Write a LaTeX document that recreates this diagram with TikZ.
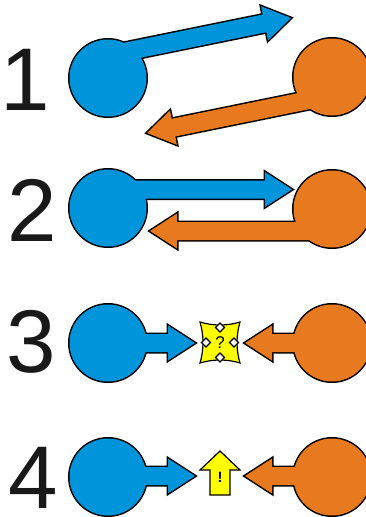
\documentclass[tikz,border=0pt]{standalone}
\usepackage{fontspec}
\setmainfont{Liberation Sans}
\definecolor{ballblue}{RGB}{0,149,218}
\definecolor{ballorange}{RGB}{231,121,30}
\definecolor{signyellow}{RGB}{255,255,0}
\tikzset{
  digit/.style={anchor=base west, inner sep=0pt, outer sep=0pt, font=\fontsize{89}{89}\selectfont, text=black!90},
  outline/.style={draw=black, line width=3pt, line join=miter},
  signline/.style={draw=black, line width=1.2pt, line join=miter},
  smallmark/.style={inner sep=0pt, font=\fontsize{17}{17}\selectfont, text=black}
}
% #1 colour, #2 #3 circle centre, #4 #5 arrow tip, #6 angle, #7 shaft length
\newcommand\ballarrow[7]{%
  \path[outline, fill=#1] (#2,#3) circle[radius=38.5];
  \path[outline, fill=#1, shift={(#4,#5)}, rotate=#6]
    (0,0) -- (-27,17.5) -- (-27,9) -- (-#7,9) -- (-#7,-9) -- (-27,-9) -- (-27,-17.5) -- cycle;
  \fill[#1] (#2,#3) circle[radius=38.5];
  \fill[#1, shift={(#4,#5)}, rotate=#6]
    (0,0) -- (-27,17.5) -- (-27,9) -- (-#7,9) -- (-#7,-9) -- (-27,-9) -- (-27,-17.5) -- cycle;
}
\newcommand\smalldiamond[2]{%
  \path[signline, line width=1.3pt, fill=white] (#1,#2-4.5) -- (#1+4.5,#2) -- (#1,#2+4.5) -- (#1-4.5,#2) -- cycle;
}
\begin{document}
\begin{tikzpicture}[x=1pt, y=-1pt]
\useasboundingbox[fill=white] (0,0) rectangle (366,517);

% digits
\node[digit] (d1) at (1,110) {1};
\node[digit] (d2) at (7.4,241) {2};
\node[digit] (d3) at (6.3,372) {3};
\node[digit] (d4) at (8.8,508) {4};

% row 1
\ballarrow{ballblue}{108}{78}{291}{18}{11.5}{185}
\ballarrow{ballorange}{332}{77}{147}{133}{191.5}{185}

% row 2
\ballarrow{ballblue}{108}{208}{292}{189.5}{0}{180}
\ballarrow{ballorange}{332}{209}{150}{231}{180}{178}

% row 3
\ballarrow{ballblue}{108}{343}{195}{343}{0}{85}
\ballarrow{ballorange}{332}{343}{245}{343}{180}{85}
\path[signline, fill=signyellow] (200,322) .. controls (213,326) and (227,326) .. (240,322)
  .. controls (236,336) and (236,349) .. (240,363)
  .. controls (227,359) and (213,359) .. (200,363)
  .. controls (204,349) and (204,336) .. (200,322) -- cycle;
\smalldiamond{220}{327.5}
\smalldiamond{220}{357.5}
\smalldiamond{206}{342.5}
\smalldiamond{234}{342.5}
\node[smallmark] (q) at (220,343) {?};

% row 4
\ballarrow{ballblue}{108}{477}{195}{476}{0}{85}
\ballarrow{ballorange}{332}{477}{245}{476}{180}{85}
\path[signline, fill=signyellow] (220,451) -- (240,470) -- (230,470) -- (230,495) -- (210,495) -- (210,470) -- (200,470) -- cycle;
\node[smallmark, font=\fontsize{15}{15}\selectfont\bfseries] (ex) at (220,477) {!};
\end{tikzpicture}
\end{document}
